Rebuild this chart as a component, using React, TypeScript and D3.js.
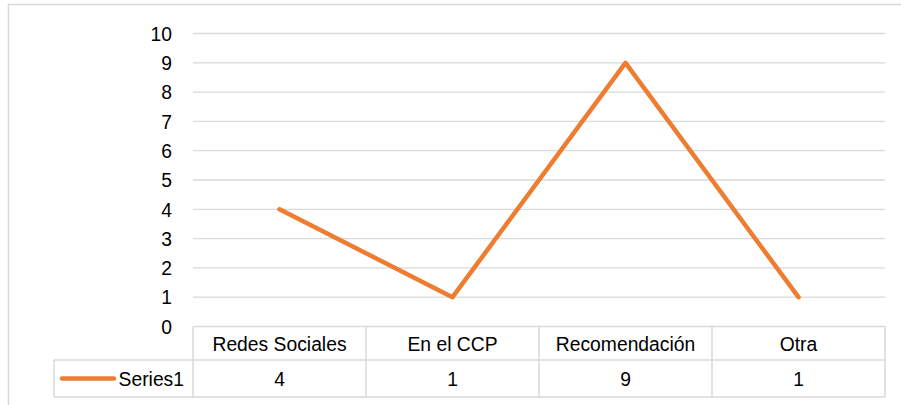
import React from "react";
import * as d3 from "d3";

const categories = ["Redes Sociales", "En el CCP", "Recomendación", "Otra"];
const seriesName = "Series1";
const values = [4, 1, 9, 1];
const yTicks = [0, 1, 2, 3, 4, 5, 6, 7, 8, 9, 10];

const W = 901;
const H = 405;
const plotLeft = 193;
const plotRight = 885;
const plotTop = 33.5;
const plotBottom = 326.5;
const headerBottom = 360;
const tableBottom = 397;
const legendLeft = 54;
const orange = "#ED7D31";
const grid = "#D9D9D9";
const font = "'Liberation Sans', Arial, sans-serif";
const fs = 21;
const sx = 0.92;

function T({ x, y, anchor, children }: { x: number; y: number; anchor: string; children: React.ReactNode }) {
  return (
    <text
      transform={`translate(${x},${y}) scale(${sx},1)`}
      textAnchor={anchor as any}
      dominantBaseline="central"
      fontFamily={font}
      fontSize={fs}
      fill="#000"
    >
      {children}
    </text>
  );
}

export default function App() {
  const x = d3.scaleBand<string>().domain(categories).range([plotLeft, plotRight]);
  const y = d3.scaleLinear().domain([0, 10]).range([plotBottom, plotTop]);
  const line = d3
    .line<number>()
    .x((_, i) => (x(categories[i]) as number) + x.bandwidth() / 2)
    .y((d) => y(d));
  const bounds = categories.map((c) => x(c) as number).concat([plotRight]);
  const headerMid = (plotBottom + headerBottom) / 2;
  const dataMid = (headerBottom + tableBottom) / 2;

  return (
    <svg width={W} height={H} style={{ position: "absolute", left: 0, top: 0 }}>
      <rect x={0} y={0} width={W} height={H} fill="#fff" />
      <rect x={8.5} y={4.5} width={1000} height={1000} fill="none" stroke={grid} strokeWidth={1.5} />
      {yTicks.filter((t) => t > 0).map((t) => (
        <line key={t} x1={plotLeft} x2={plotRight} y1={y(t)} y2={y(t)} stroke={grid} strokeWidth={1.3} />
      ))}
      {yTicks.map((t) => (
        <T key={t} x={172} y={y(t)} anchor="end">{t}</T>
      ))}
      {/* table */}
      <g stroke={grid} strokeWidth={1.5} fill="none">
        <line x1={plotLeft} x2={plotRight} y1={plotBottom} y2={plotBottom} />
        <line x1={legendLeft} x2={plotRight} y1={headerBottom} y2={headerBottom} />
        <line x1={legendLeft} x2={plotRight} y1={tableBottom} y2={tableBottom} />
        <line x1={legendLeft} x2={legendLeft} y1={headerBottom} y2={tableBottom} />
        {bounds.map((b, i) => (
          <line key={i} x1={b} x2={b} y1={plotBottom} y2={tableBottom} />
        ))}
      </g>
      {categories.map((c, i) => (
        <g key={c}>
          <T x={(x(c) as number) + x.bandwidth() / 2} y={headerMid} anchor="middle">{c}</T>
          <T x={(x(c) as number) + x.bandwidth() / 2} y={dataMid} anchor="middle">{values[i]}</T>
        </g>
      ))}
      <line x1={62} x2={114} y1={dataMid} y2={dataMid} stroke={orange} strokeWidth={4.5} strokeLinecap="round" />
      <T x={184} y={dataMid} anchor="end">{seriesName}</T>
      <path d={line(values) || ""} fill="none" stroke={orange} strokeWidth={4.5} strokeLinejoin="round" strokeLinecap="round" />
    </svg>
  );
}
